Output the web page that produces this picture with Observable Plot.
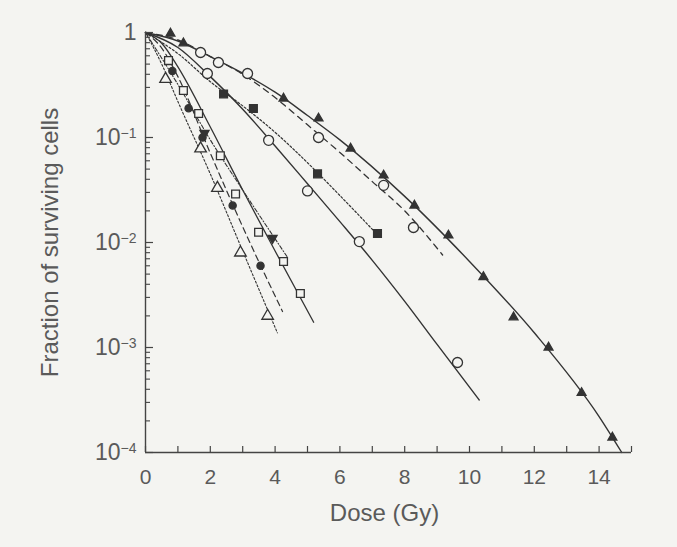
<!DOCTYPE html>
<html><head><meta charset="utf-8">
<script src="https://cdn.jsdelivr.net/npm/d3@7"></script>
<script src="https://cdn.jsdelivr.net/npm/@observablehq/plot@0.6"></script>
<style>
html,body{margin:0;padding:0;background:#f4f4f1;}
</style></head><body><div id="chart"></div>
<script>
// ---- axis ticks ----
const xTickLabels = [0, 2, 4, 6, 8, 10, 12, 14];
const xMinorTicks = d3.range(0, 16);
const yTickValues = [1, 0.1, 0.01, 0.001, 0.0001];
const yTickBase = ["1", "10", "10", "10", "10"];
const yTickExp = ["", "\u22121", "\u22122", "\u22123", "\u22124"];
const yMinorTicks = [0.0002,0.0003,0.0004,0.0005,0.0006,0.0007,0.0008,0.0009,
  0.002,0.003,0.004,0.005,0.006,0.007,0.008,0.009,
  0.02,0.03,0.04,0.05,0.06,0.07,0.08,0.09,
  0.2,0.3,0.4,0.5,0.6,0.7,0.8,0.9];

// ---- A: filled triangles, solid fitted curve ----
const doseA = [0.77, 1.17, 4.26, 5.34, 6.33, 7.35, 8.30, 9.35, 10.43, 11.36, 12.44, 13.46, 14.41];
const survA = [0.98, 0.79, 0.235, 0.152, 0.0785, 0.0436, 0.0225, 0.0117, 0.0047, 0.00194, 0.001, 0.00037, 0.000139];
const fitDoseA = [0, 1, 2, 3, 4, 5, 6, 8, 10, 12, 14, 14.7];
const fitSurvA = [1, 0.83, 0.59, 0.41, 0.27, 0.162, 0.095, 0.0275, 0.0066, 0.00138, 0.00022, 0.0001];

// ---- B: open circles, dashed curve ----
const doseB = [1.70, 2.25, 3.15, 5.34, 7.35, 8.27];
const survB = [0.645, 0.518, 0.407, 0.1, 0.035, 0.0139];
const fitDoseB = [0, 1, 2, 3, 4, 5, 6, 7, 8, 9.17];
const fitSurvB = [1, 0.85, 0.59, 0.40, 0.24, 0.132, 0.072, 0.038, 0.020, 0.0076];

// ---- C: filled squares, dotted curve ----
const doseC = [2.41, 3.33, 5.31, 7.16];
const survC = [0.26, 0.189, 0.045, 0.0122];
const fitDoseC = [0, 1, 2, 3, 4, 5, 6, 7.2];
const fitSurvC = [1, 0.63, 0.34, 0.2, 0.112, 0.0575, 0.028, 0.0115];

// ---- D: open circles, solid curve ----
const doseD = [1.91, 3.80, 5.0, 6.6, 9.63];
const survD = [0.407, 0.094, 0.031, 0.0102, 0.00072];
const fitDoseD = [0, 1, 2, 3, 4, 5, 6, 7, 8, 9, 10.3];
const fitSurvD = [1, 0.72, 0.38, 0.186, 0.083, 0.0363, 0.0158, 0.00676, 0.00275, 0.00107, 0.000316];

// ---- E: open squares, solid curve ----
const doseE = [0.71, 1.17, 1.64, 2.31, 2.78, 3.49, 4.26, 4.78];
const survE = [0.54, 0.28, 0.169, 0.067, 0.029, 0.0125, 0.0066, 0.00327];
const fitDoseE = [0, 0.5, 1, 2, 3, 4, 5.19];
const fitSurvE = [1, 0.79, 0.47, 0.126, 0.0316, 0.0083, 0.00174];

// ---- F: filled circles, dashed curve ----
const doseF = [0.83, 1.33, 1.76, 2.69, 3.55];
const survF = [0.43, 0.19, 0.1, 0.0225, 0.006];
const fitDoseF = [0, 0.5, 1, 2, 3, 4.23];
const fitSurvF = [1, 0.71, 0.38, 0.071, 0.0141, 0.0022];

// ---- G: open triangles, dotted curve ----
const doseG = [0.62, 1.70, 2.22, 2.93, 3.77];
const survG = [0.36, 0.0785, 0.033, 0.008, 0.002];
const fitDoseG = [0, 0.5, 1, 2, 3, 4.07];
const fitSurvG = [1, 0.5, 0.22, 0.045, 0.0083, 0.00138];

// ---- H: filled inverted triangles, thin curve ----
const doseH = [1.82, 3.92];
const survH = [0.11, 0.011];
const fitDoseH = [0, 1, 2, 3, 4.4];
const fitSurvH = [1, 0.32, 0.095, 0.0316, 0.0071];

const pts = (xs, ys) => xs.map((x, i) => ({x, y: ys[i]}));

const BG = "#f4f4f1";
const INK = "#333";
const TXT = "#5a5a5a";

const curves = [
  {d: pts(fitDoseA, fitSurvA), dash: null, w: 1.4},
  {d: pts(fitDoseB, fitSurvB), dash: "6,5", w: 1.3},
  {d: pts(fitDoseC, fitSurvC), dash: "2,2", w: 1.2},
  {d: pts(fitDoseD, fitSurvD), dash: null, w: 1.4},
  {d: pts(fitDoseE, fitSurvE), dash: null, w: 1.3},
  {d: pts(fitDoseF, fitSurvF), dash: "6,4", w: 1.2},
  {d: pts(fitDoseG, fitSurvG), dash: "2,2", w: 1.1},
  {d: pts(fitDoseH, fitSurvH), dash: "4,2,1,2", w: 1.1}
];

const series = [
  {d: pts(doseA, survA), symbol: "triangle", fill: INK, r: 3.3, rot: 0},
  {d: pts(doseB, survB), symbol: "circle", fill: BG, r: 5, rot: 0},
  {d: pts(doseC, survC), symbol: "square", fill: INK, r: 4.4, rot: 0},
  {d: pts(doseD, survD), symbol: "circle", fill: BG, r: 5, rot: 0},
  {d: pts(doseE, survE), symbol: "square", fill: BG, r: 4.4, rot: 0},
  {d: pts(doseF, survF), symbol: "circle", fill: INK, r: 3.6, rot: 0},
  {d: pts(doseG, survG), symbol: "triangle", fill: BG, r: 4.3, rot: 0},
  {d: pts(doseH, survH), symbol: "triangle", fill: INK, r: 3.4, rot: 180}
];

const FW = 677 - 145 - 46;  // frame width
const FH = 547 - 32 - 95;   // frame height

const chart = Plot.plot({
  width: 677,
  height: 547,
  marginLeft: 145,
  marginRight: 46,
  marginTop: 32,
  marginBottom: 95,
  style: {background: BG, color: TXT, fontFamily: "'Liberation Sans', Arial, sans-serif", fontSize: "21px"},
  x: {domain: [0, 15]},
  y: {type: "log", domain: [0.0001, 1]},
  marks: [
    // fitted curves
    ...curves.map(c => Plot.line(c.d, {x: "x", y: "y", stroke: INK, strokeWidth: c.w, strokeDasharray: c.dash, curve: "monotone-x"})),
    // data points
    ...series.map(s => Plot.dot(s.d, {x: "x", y: "y", symbol: s.symbol, r: s.r, fill: s.fill, stroke: INK, strokeWidth: 1.3, rotate: s.rot})),
    // axis lines
    Plot.ruleX([0], {stroke: "#444", strokeWidth: 1.4}),
    Plot.ruleY([0.0001], {stroke: "#444", strokeWidth: 1.4}),
    // inward ticks
    Plot.ruleX(xMinorTicks, {x: d => d, stroke: "#444", strokeWidth: 1.2, insetTop: FH - 6}),
    Plot.ruleY(yMinorTicks, {y: d => d, stroke: "#444", strokeWidth: 1.1, insetRight: FW - 5}),
    Plot.ruleY(yTickValues, {y: d => d, stroke: "#444", strokeWidth: 1.2, insetRight: FW - 8}),
    // tick labels
    Plot.axisX({ticks: xTickLabels, tickSize: 0, tickPadding: 17, tickFormat: d => String(d), label: null, fill: TXT}),
    Plot.axisY({ticks: yTickValues, tickSize: 0, tickPadding: 9, tickFormat: d => yTickBase[yTickValues.indexOf(d)], label: null, fill: TXT, fontSize: 23}),
    // axis titles
    Plot.text(["Dose (Gy)"], {frameAnchor: "bottom", dy: 68, dx: -4, text: d => d, fill: TXT, fontSize: 24}),
    Plot.text(["Fraction of surviving cells"], {frameAnchor: "left", dx: -95, rotate: -90, textAnchor: "middle", text: d => d, fill: TXT, fontSize: 24})
  ]
});

// superscript exponents for the y tick labels
const yLabelNodes = Array.from(chart.querySelectorAll('[aria-label="y-axis tick label"] text'));
yLabelNodes.forEach((t, i) => {
  const exp = yTickExp[i];
  if (!exp) return;
  const ts = document.createElementNS("http://www.w3.org/2000/svg", "tspan");
  ts.setAttribute("dy", "-0.5em");
  ts.setAttribute("font-size", "14");
  ts.textContent = exp;
  t.appendChild(ts);
});

document.getElementById("chart").appendChild(chart);
</script>
</body></html>
